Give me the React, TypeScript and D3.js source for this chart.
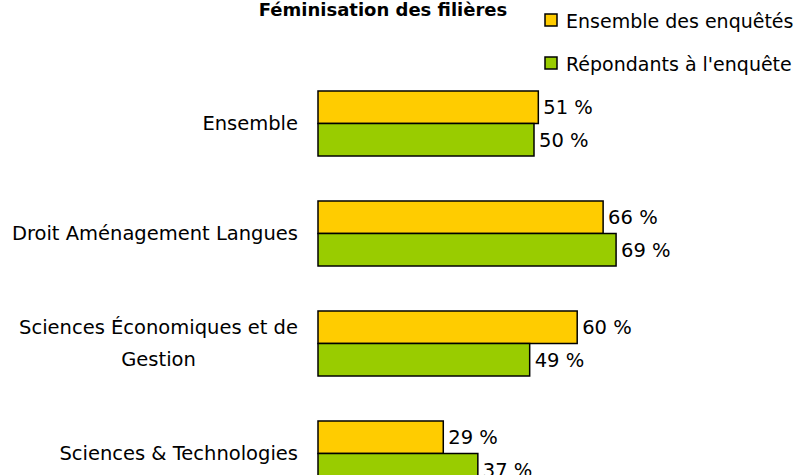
import React from 'react';
import * as d3 from 'd3';

// categories, one entry per line of the label
const categories = [
  ['Ensemble'],
  ['Droit Aménagement Langues'],
  ['Sciences Économiques et de', 'Gestion'],
  ['Sciences & Technologies'],
];
const seriesNames = ['Ensemble des enquêtés', 'Répondants à l\'enquête'];
const ensembleValues = [51, 66, 60, 29];
const repondantsValues = [50, 69, 49, 37];
const seriesColors = ['#FFCC00', '#99CC00'];

const W = 802;
const H = 475;
const FONT = '"Comic Sans MS", "DejaVu Sans", sans-serif';
const FS = 19.5;

const measure = (() => {
  const ctx = document.createElement('canvas').getContext('2d');
  return (s: string) => {
    if (!ctx) return s.length * FS * 0.6;
    ctx.font = `${FS}px ${FONT}`;
    return ctx.measureText(s).width;
  };
})();

export default function App() {
  const series = [ensembleValues, repondantsValues];
  const keys = categories.map((_, i) => String(i));

  const x = d3.scaleLinear().domain([0, 100]).range([318, 750]);
  const y = d3.scaleBand<string>()
    .domain(keys)
    .range([68.5, 508.5])
    .paddingInner(0.409)
    .paddingOuter(0.2045);
  const sub = d3.scaleBand<number>()
    .domain([0, 1])
    .range([0, y.bandwidth()]);

  return (
    <svg width={W} height={H} style={{ position: 'absolute', left: 0, top: 0, background: '#fff' }}
      fontFamily={FONT}>
      <text x={383} y={16} textAnchor="middle" fontSize={18} fontWeight="bold">
        Féminisation des filières
      </text>

      {/* legend */}
      {seriesNames.map((name, i) => (
        <g key={name} transform={`translate(545, ${14 + i * 43})`}>
          <rect width={12} height={12} fill={seriesColors[i]} stroke="#000" strokeWidth={1.5} />
          <text x={21} y={7} dy="0.35em" fontSize={19}>{name}</text>
        </g>
      ))}

      {/* bars */}
      {keys.map((k, ci) => (
        <g key={k} transform={`translate(0, ${y(k)})`}>
          {series.map((vals, si) => (
            <g key={si}>
              <rect x={x(0)} y={sub(si)} width={x(vals[ci]) - x(0)} height={sub.bandwidth()}
                fill={seriesColors[si]} stroke="#000" strokeWidth={1.5} />
              <text x={x(vals[ci]) + 5} y={(sub(si) as number) + sub.bandwidth() / 2} dy="0.35em"
                fontSize={FS}>{vals[ci]} %</text>
            </g>
          ))}
        </g>
      ))}

      {/* category labels: block right-aligned, lines centered */}
      {categories.map((lines, ci) => {
        const cy = (y(keys[ci]) as number) + y.bandwidth() / 2;
        const lineH = 32;
        const blockW = Math.max(...lines.map(measure));
        const cx = 298 - blockW / 2;
        return (
          <text key={ci} fontSize={FS} textAnchor="middle">
            {lines.map((l, li) => (
              <tspan key={li} x={cx}
                y={cy + (li - (lines.length - 1) / 2) * lineH} dy="0.35em">{l}</tspan>
            ))}
          </text>
        );
      })}
    </svg>
  );
}
